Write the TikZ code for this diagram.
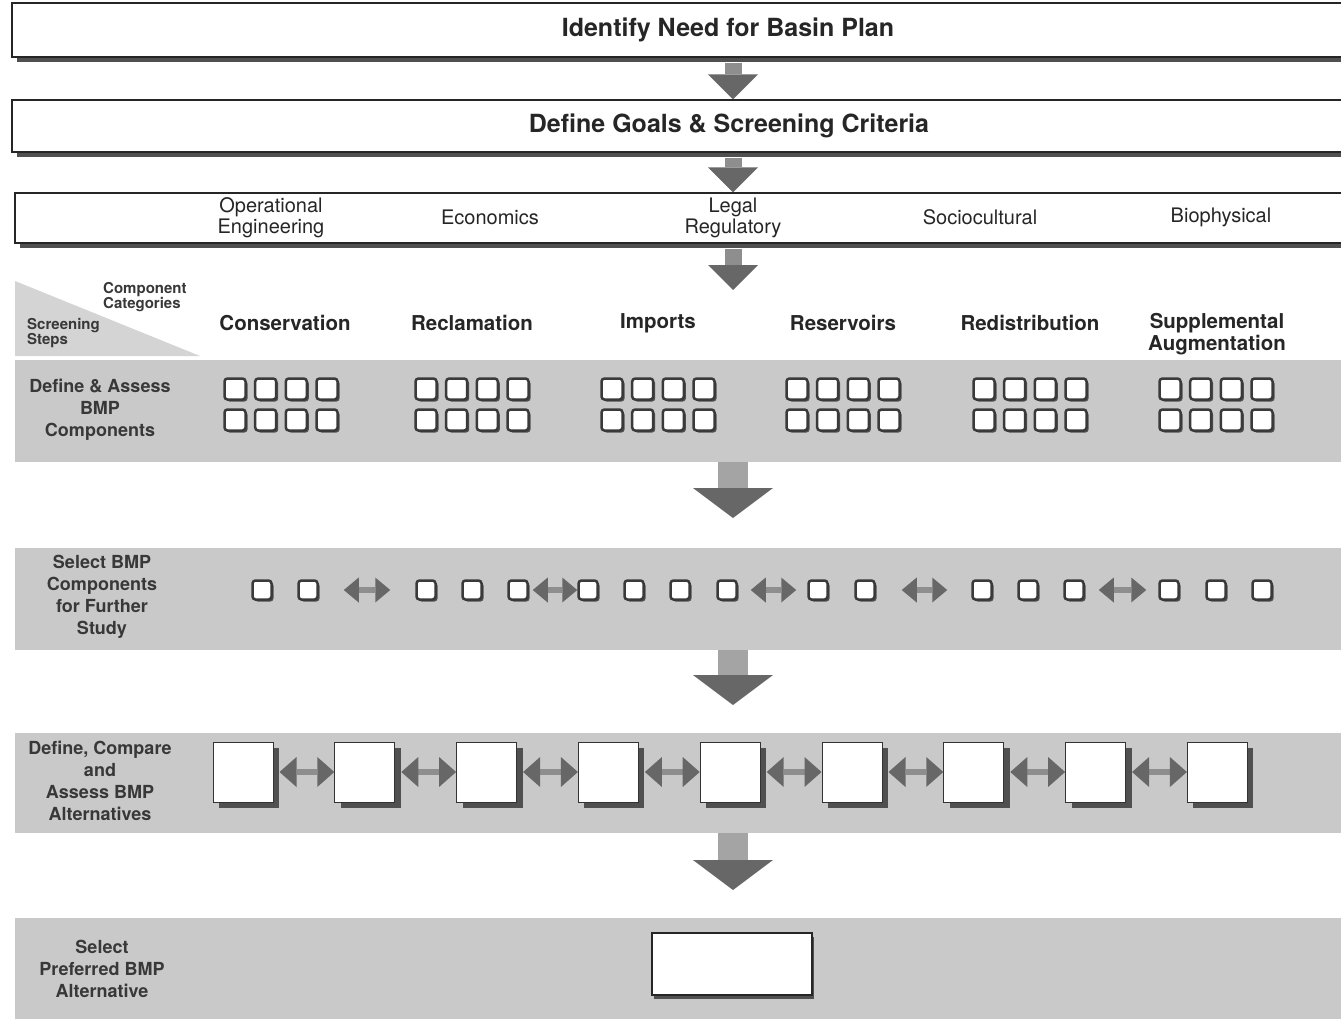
\documentclass[tikz,border=0pt]{standalone}
\usepackage{fontspec}
\setmainfont{TeX Gyre Heros}
\usetikzlibrary{arrows.meta,shadows}
\definecolor{bandgray}{HTML}{C9C9C9}
\definecolor{trigray}{HTML}{D4D4D4}
\definecolor{arrowgray}{HTML}{676767}
\definecolor{stemgray}{HTML}{8E8E8E}
\definecolor{bigstem}{HTML}{A4A4A4}
\definecolor{shadowgray}{HTML}{505050}
\definecolor{inkgray}{HTML}{262626}
\definecolor{labgray}{HTML}{383838}
\definecolor{sqborder}{HTML}{3A3A3A}
\newcommand\fTop{\fontsize{25}{30}\selectfont\bfseries}
\newcommand\fCrit{\fontsize{20}{21}\selectfont}
\newcommand\fCat{\fontsize{20.5}{21.5}\selectfont\bfseries}
\newcommand\fLab{\fontsize{18}{22}\selectfont\bfseries}
\newcommand\fCorner{\fontsize{15}{15.5}\selectfont\bfseries}
\begin{document}
\begin{tikzpicture}[x=1pt,y=-1pt,
  topbox/.style={rectangle, draw=black!85, line width=1.2pt, fill=white, inner sep=0pt,
    general shadow={fill=shadowgray, shadow xshift=5pt, shadow yshift=-5pt}},
  band/.style={rectangle, fill=bandgray, draw=none, inner sep=0pt},
  crittext/.style={font=\fCrit, text=inkgray, align=center, inner sep=0pt},
  cattext/.style={font=\fCat, text=inkgray, align=center, inner sep=0pt},
  bandlabel/.style={font=\fLab, text=labgray, align=center, inner sep=0pt},
  cornertext/.style={font=\fCorner, text=labgray, align=left, inner sep=0pt},
  sqa/.style={rectangle, minimum size=21pt, inner sep=0pt, draw=sqborder, line width=2.5pt,
    fill=white, rounded corners=3pt,
    general shadow={fill=shadowgray, shadow xshift=2pt, shadow yshift=-2pt}},
  sqb/.style={sqa, minimum size=19pt},
  bigbox/.style={rectangle, minimum size=60pt, inner sep=0pt, draw=black!80, line width=1pt,
    fill=white, general shadow={fill=shadowgray, shadow xshift=6pt, shadow yshift=-6pt}},
  downarrow/.style={line width=17pt, draw=stemgray,
    -{Triangle[length=25pt,width=50pt,line width=0pt,color=arrowgray]}},
  bigarrow/.style={line width=30pt, draw=bigstem,
    -{Triangle[length=30pt,width=80pt,line width=0pt,color=arrowgray]}},
  dblsmall/.style={line width=6pt, draw=stemgray,
    {Triangle[length=15pt,width=25pt,line width=0pt,color=arrowgray]}-{Triangle[length=15pt,width=25pt,line width=0pt,color=arrowgray]}},
  dblbig/.style={line width=6pt, draw=stemgray,
    {Triangle[length=17pt,width=30pt,line width=0pt,color=arrowgray]}-{Triangle[length=17pt,width=30pt,line width=0pt,color=arrowgray]}}
]
\useasboundingbox (0,0) rectangle (1341,1018);
\fill[white] (0,0) rectangle (1341,1018);

% top boxes
\node[topbox, minimum width=1432pt, minimum height=54pt, font=\fTop, text=inkgray] (need) at (728,30) {Identify Need for Basin Plan};
\node[topbox, minimum width=1434pt, minimum height=52pt, font=\fTop, text=inkgray] (goals) at (729,126) {Define Goals \& Screening Criteria};
\node[topbox, minimum width=1400pt, minimum height=50pt] (crit) at (715,218) {};

\node[crittext] (openg) at (271,218) {Operational\\Engineering};
\node[crittext] (econ) at (490,217) {Economics};
\node[crittext] (legal) at (733,218) {Legal\\Regulatory};
\node[crittext] (socio) at (980,217) {Sociocultural};
\node[crittext] (bio) at (1221,217) {Biophysical};

\coordinate (ax) at (733,0);
\coordinate (tip0) at (733,290);
\draw[downarrow, shorten <=5pt] (need.south -| ax) -- (goals.north -| ax);
\draw[downarrow, shorten <=5pt] (goals.south -| ax) -- (crit.north -| ax);
\draw[downarrow, shorten <=5pt] (crit.south -| ax) -- (tip0);

% corner triangle
\fill[trigray] (15,281) -- (15,356) -- (200,356) -- cycle;
\node[cornertext, anchor=west] (compcat) at (103,297) {Component\\Categories};
\node[cornertext, anchor=west] (scrsteps) at (27,333) {Screening\\Steps};

% category headers
\node[cattext] (cons) at (285,323) {Conservation};
\node[cattext] (recl) at (472,323) {Reclamation};
\node[cattext] (imp) at (658,323) {Imports};
\node[cattext] (res) at (843,323) {Reservoirs};
\node[cattext] (redis) at (1030,323) {Redistribution};
\node[cattext] (supp) at (1217,334) {Supplemental\\Augmentation};

% bands
\node[band, minimum width=1326pt, minimum height=102pt] (band1) at (678,411) {};
\node[band, minimum width=1326pt, minimum height=102pt] (band2) at (678,599) {};
\node[band, minimum width=1326pt, minimum height=100pt] (band3) at (678,783) {};
\node[band, minimum width=1326pt, minimum height=110pt] (band4) at (678,973) {};

\node[bandlabel] (lab1) at (100,410) {Define \& Assess\\BMP\\Components};
\node[bandlabel] (lab2) at (102,597) {Select BMP\\Components\\for Further\\Study};
\node[bandlabel] (lab3) at (100,781) {Define, Compare\\and\\Assess BMP\\Alternatives};
\node[bandlabel] (lab4) at (102,969) {Select\\Preferred BMP\\Alternative};

% band 1 squares
\foreach \cx [count=\c] in {281,472,658,843,1030,1216} {
  \foreach \dx [count=\i] in {-46,-15.3,15.3,46} {
    \node[sqa] (a\c-\i-1) at (\cx+\dx,389) {};
    \node[sqa] (a\c-\i-2) at (\cx+\dx,420) {};
  }
}

% band 2 squares
\foreach \px [count=\k] in {262,308,426,472,518,588,634,680,727,818,865,982,1028,1074,1169,1216,1262} {
  \node[sqb] (b\k) at (\px,590) {};
}
\draw[dblsmall, shorten <=25pt, shorten >=25pt] (b2.east) -- (b3.west);
\draw[dblsmall, shorten <=4pt, shorten >=0pt] (b5.east) -- (b6.west);
\draw[dblsmall, shorten <=13pt, shorten >=11pt] (b9.east) -- (b10.west);
\draw[dblsmall, shorten <=26pt, shorten >=24pt] (b11.east) -- (b12.west);
\draw[dblsmall, shorten <=14pt, shorten >=12pt] (b14.east) -- (b15.west);

% band 3 boxes
\foreach \k in {1,...,9} {
  \node[bigbox] (c\k) at ({243+121.8*(\k-1)},772) {};
}
\foreach \k [evaluate=\k as \n using int(\k+1)] in {1,...,8} {
  \draw[dblbig, shorten <=6pt] (c\k.east) -- (c\n.west);
}

% band 4 box
\node[rectangle, minimum width=160pt, minimum height=62pt, inner sep=0pt, draw=black!85,
  line width=1.5pt, fill=white,
  general shadow={fill=shadowgray, shadow xshift=2pt, shadow yshift=-4pt}] (pref) at (732,964) {};

% big arrows
\coordinate (tip1) at (733,518);
\coordinate (tip2) at (733,705);
\coordinate (tip3) at (733,890);
\draw[bigarrow] (band1.south -| tip1) -- (tip1);
\draw[bigarrow] (band2.south -| tip2) -- (tip2);
\draw[bigarrow] (band3.south -| tip3) -- (tip3);
\end{tikzpicture}
\end{document}
